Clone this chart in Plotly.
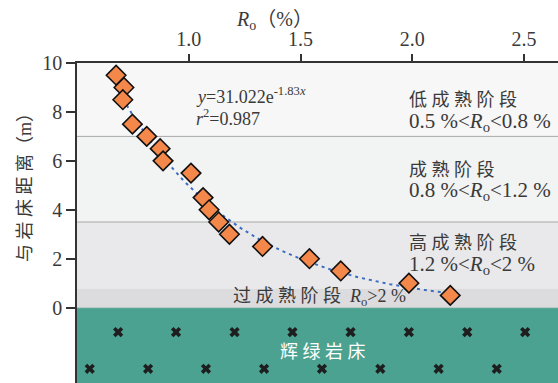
import numpy as np
import plotly.graph_objects as go

# Vitrinite reflectance Ro (%) vs distance from the dolerite sill (m)
ro = [0.675, 0.71, 0.705, 0.748, 0.812, 0.872, 0.885, 1.01, 1.064, 1.091,
      1.134, 1.182, 1.33, 1.54, 1.68, 1.985, 2.17]
dist = [9.5, 9.0, 8.5, 7.5, 7.0, 6.5, 6.0, 5.5, 4.5, 4.0,
        3.5, 3.0, 2.5, 2.0, 1.5, 1.0, 0.5]

# Exponential fit y = a * exp(b x)
fit_a, fit_b = 31.022, -1.83
fit_range = [0.675, 2.17]

# Maturity zone boundaries (distance, m) and fills
zone_bounds = [10.0, 7.0, 3.5, 0.78, 0.0]
zone_fills = ["#f7f7f7", "#f2f3f3", "#e9e9eb", "#dcdcde"]

# Dolerite sill pattern markers
sill_row1_x = [0.684, 0.943, 1.205, 1.464, 1.724, 1.985, 2.246, 2.505]
sill_row2_x = [0.557, 0.818, 1.077, 1.337, 1.596, 1.857, 2.118, 2.378]
sill_rows_y = [-1.0, -2.5]

x_ticks = [1.0, 1.5, 2.0, 2.5]
x_ticktext = ["1.0", "1.5", "2.0", "2.5"]
y_ticks = [0, 2, 4, 6, 8, 10]

SERIF = "Liberation Serif, Noto Sans CJK SC, serif"
TXT = "#3a3a3a"
X_RANGE = [0.5, 2.652]
Y_RANGE = [-3.08, 10]

fig = go.Figure()

shapes = []
for top, bot, col in zip(zone_bounds[:-1], zone_bounds[1:], zone_fills):
    shapes.append(dict(type="rect", xref="paper", yref="y", x0=0, x1=1,
                       y0=bot, y1=top, fillcolor=col, line_width=0, layer="below"))
for yb in [7.0, 3.5]:
    shapes.append(dict(type="line", xref="paper", yref="y", x0=0, x1=1,
                       y0=yb, y1=yb, line=dict(color="#a8a8a8", width=1), layer="below"))
shapes.append(dict(type="rect", xref="paper", yref="y", x0=0, x1=1,
                   y0=Y_RANGE[0] - 1, y1=0, fillcolor="#4ba290",
                   line_width=0, layer="below"))
shapes.append(dict(type="line", xref="paper", yref="y", x0=0, x1=1, y0=0, y1=0,
                   line=dict(color="#b9c9c4", width=1), layer="below"))

# sill cross pattern
fig.add_trace(go.Scatter(
    x=sill_row1_x + sill_row2_x,
    y=[sill_rows_y[0]] * len(sill_row1_x) + [sill_rows_y[1]] * len(sill_row2_x),
    mode="markers", marker=dict(symbol="x", size=9, color="#1e1e1e"),
    hoverinfo="skip", showlegend=False))

# fitted curve
xf = np.linspace(fit_range[0], fit_range[1], 200)
yf = fit_a * np.exp(fit_b * xf)
fig.add_trace(go.Scatter(x=xf, y=yf, mode="lines",
                         line=dict(color="#3b6cc2", width=2, dash="3px,4px"),
                         showlegend=False))

# measured samples
fig.add_trace(go.Scatter(x=ro, y=dist, mode="markers",
                         marker=dict(symbol="diamond", size=15, color="#f4874a",
                                     line=dict(color="#111111", width=1.6)),
                         showlegend=False))

ann = []
def label(x, y, text, size=19, color=TXT, xanchor="left", **kw):
    ann.append(dict(x=x, y=y, xref="x", yref="y", text=text, showarrow=False,
                    xanchor=xanchor, yanchor="middle",
                    font=dict(family=SERIF, size=size, color=color), **kw))

label(1.025, 8.68, "<i>y</i>=31.022e<sup>-1.83<i>x</i></sup>", size=18)
label(1.025, 7.78, "<i>r</i><sup>2</sup>=0.987", size=18)
label(1.975, 8.5, "低 成 熟 阶 段", size=18)
label(1.975, 7.6, "0.5 %&lt;<i>R</i><sub>o</sub>&lt;0.8 %", size=21)
label(1.975, 5.63, "成 熟 阶 段", size=18)
label(1.975, 4.77, "0.8 %&lt;<i>R</i><sub>o</sub>&lt;1.2 %", size=21)
label(1.975, 2.65, "高 成 熟 阶 段", size=18)
label(1.975, 1.75, "1.2 %&lt;<i>R</i><sub>o</sub>&lt;2 %", size=21)
label(1.585, 0.4, "过 成 熟 阶 段  <i>R</i><sub>o</sub>&gt;2 %", size=18, xanchor="center")
label(1.6, -1.81, "辉 绿 岩 床", size=18, color="#ffffff", xanchor="center")

# axis titles
ann.append(dict(x=1.385, y=1, xref="x", yref="paper", yshift=43, showarrow=False,
                text="<i>R</i><sub>o</sub>（%）", xanchor="center", yanchor="middle",
                font=dict(family=SERIF, size=20, color=TXT)))
ann.append(dict(x=0, y=5.1, xref="paper", yref="y", xshift=-52, showarrow=False,
                text="与 岩 床 距 离（m）", textangle=-90, xanchor="center", yanchor="middle",
                font=dict(family=SERIF, size=18, color=TXT)))

fig.update_layout(
    width=558, height=383,
    margin=dict(l=77, r=0, t=63, b=0),
    paper_bgcolor="white", plot_bgcolor="white",
    shapes=shapes, annotations=ann, showlegend=False,
    xaxis=dict(range=X_RANGE, side="top", tickvals=x_ticks, ticktext=x_ticktext,
               ticks="outside", ticklen=7, tickwidth=1.5, tickcolor="#333",
               showline=True, linecolor="#333", linewidth=1.5,
               showgrid=False, zeroline=False,
               tickfont=dict(family=SERIF, size=20, color=TXT)),
    yaxis=dict(range=Y_RANGE, tickvals=y_ticks, ticks="outside", ticklen=9,
               tickwidth=1.5, tickcolor="#333",
               showline=True, linecolor="#333", linewidth=1.5,
               showgrid=False, zeroline=False,
               tickfont=dict(family=SERIF, size=20, color=TXT)),
)

fig.write_html("out.html")
